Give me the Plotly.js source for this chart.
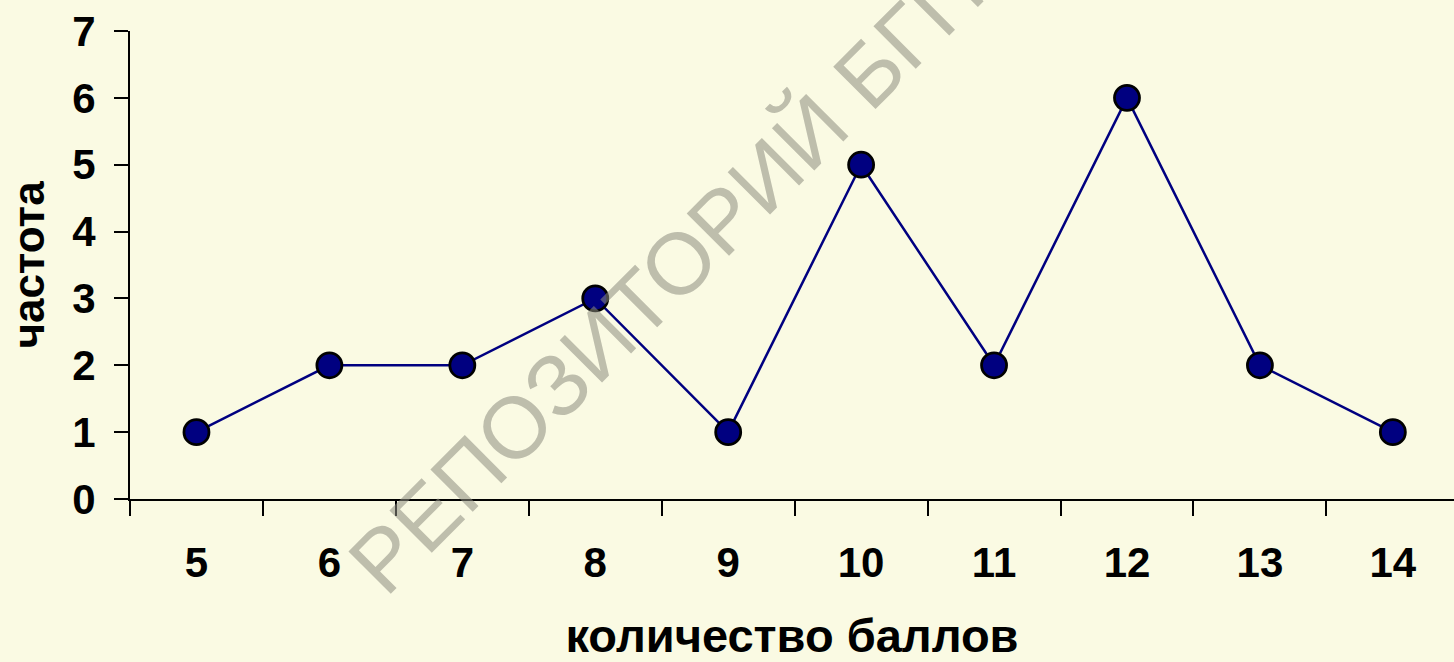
<!DOCTYPE html>
<html>
<head>
<meta charset="utf-8">
<script src="https://cdn.plot.ly/plotly-3.0.1.min.js"></script>
<style>
html,body{margin:0;padding:0;background:#FAFAE3;}
#chart{width:1454px;height:662px;}
</style>
</head>
<body>
<div id="chart"></div>
<script>
const categories = ['5','6','7','8','9','10','11','12','13','14'];
const frequency = [1, 2, 2, 3, 1, 5, 2, 6, 2, 1];
const xTitle = 'количество баллов';
const yTitle = 'частота';
const watermark = 'РЕПОЗИТОРИЙ БГПУ';

const bg = '#FAFAE3';
const font = 'Liberation Sans, Arial, sans-serif';

const trace = {
  type: 'scatter',
  mode: 'lines+markers',
  x: categories,
  y: frequency,
  line: {color: '#000080', width: 2.5},
  marker: {color: '#000080', size: 25, line: {color: '#000000', width: 2.8}},
  cliponaxis: false,
  hoverinfo: 'x+y'
};

const layout = {
  width: 1454,
  height: 662,
  paper_bgcolor: bg,
  plot_bgcolor: bg,
  showlegend: false,
  margin: {l: 130, r: 0, t: 31, b: 163},
  font: {family: font, color: '#000000'},
  xaxis: {
    type: 'category',
    range: [-0.5, 9.46],
    tickson: 'boundaries',
    ticks: 'outside',
    ticklen: 15,
    tickwidth: 2,
    tickcolor: '#000',
    showline: true,
    linecolor: '#000',
    linewidth: 2,
    showgrid: false,
    zeroline: false,
    ticklabelstandoff: 26,
    tickfont: {family: font, size: 42, color: '#000', weight: 'bold'},
    title: {text: '<b>' + xTitle + '</b>', font: {family: font, size: 47, color: '#000'}, standoff: 40}
  },
  yaxis: {
    range: [0, 7],
    dtick: 1,
    ticks: 'outside',
    ticklen: 14,
    tickwidth: 2,
    tickcolor: '#000',
    showline: true,
    linecolor: '#000',
    linewidth: 2,
    showgrid: false,
    zeroline: false,
    ticklabelstandoff: 10,
    tickfont: {family: font, size: 42, color: '#000', weight: 'bold'},
    title: {text: '<b>' + yTitle + '</b>', font: {family: font, size: 44, color: '#000'}, standoff: 14}
  },
  annotations: [{
    text: watermark,
    xref: 'paper', yref: 'paper',
    x: 0.419, y: 0.519,
    xanchor: 'center', yanchor: 'middle',
    showarrow: false,
    textangle: -45,
    font: {family: font, size: 87, color: 'rgba(140,140,128,0.55)'}
  }]
};

Plotly.newPlot('chart', [trace], layout, {displayModeBar: false, staticPlot: true});
</script>
</body>
</html>
